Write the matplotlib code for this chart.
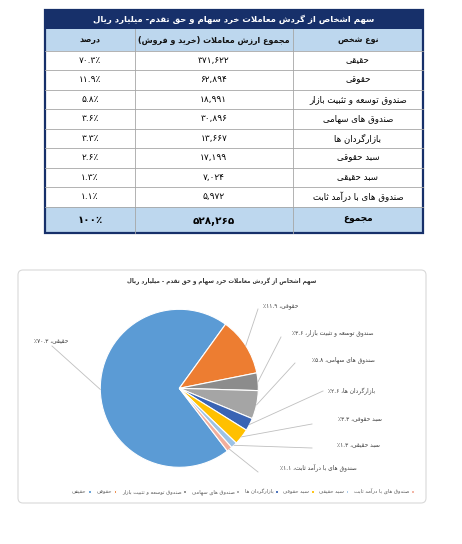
import re
import numpy as np
import matplotlib
matplotlib.use("Agg")
import matplotlib.pyplot as plt
from matplotlib.patches import Rectangle, FancyBboxPatch

# ---- data ----
table_title = "سهم اشخاص از گردش معاملات خرد سهام و حق تقدم- میلیارد ریال"
chart_title = "سهم اشخاص از گردش معاملات خرد سهام و حق تقدم - میلیارد ریال"
col_headers = ["نوع شخص", "مجموع ارزش معاملات (خرید و فروش)", "درصد"]
person_types = ["حقیقی", "حقوقی", "صندوق توسعه و تثبیت بازار", "صندوق های سهامی",
                "بازارگردان ها", "سبد حقوقی", "سبد حقیقی", "صندوق های با درآمد ثابت"]
trade_values = [371622, 62894, 18991, 30896, 13667, 17199, 7024, 5972]
table_percents = [70.3, 11.9, 5.8, 3.6, 3.3, 2.6, 1.3, 1.1]
total_label = "مجموع"
total_value = 528265
total_percent = 100
pie_percents = [70.3, 11.9, 3.6, 5.8, 2.6, 3.3, 1.3, 1.1]
pie_colors = ["#5B9BD5", "#ED7D31", "#8C8C8C", "#A5A5A5", "#3A64B4", "#FFC000", "#9DC3E6", "#F2AE9C"]

# ---- minimal persian shaping (matplotlib has no bidi / joining) ----
DUAL = {'ب': 0xFE8F, 'پ': 0xFB56, 'ت': 0xFE95, 'ث': 0xFE99, 'ج': 0xFE9D, 'چ': 0xFB7A,
        'ح': 0xFEA1, 'خ': 0xFEA5, 'س': 0xFEB1, 'ش': 0xFEB5, 'ص': 0xFEB9, 'ض': 0xFEBD,
        'ط': 0xFEC1, 'ظ': 0xFEC5, 'ع': 0xFEC9, 'غ': 0xFECD, 'ف': 0xFED1, 'ق': 0xFED5,
        'ک': 0xFB8E, 'گ': 0xFB92, 'ل': 0xFEDD, 'م': 0xFEE1, 'ن': 0xFEE5, 'ه': 0xFEE9,
        'ی': 0xFBFC}
RIGHT = {'ا': 0xFE8D, 'آ': 0xFE81, 'د': 0xFEA9, 'ذ': 0xFEAB, 'ر': 0xFEAD, 'ز': 0xFEAF,
         'ژ': 0xFB8A, 'و': 0xFEED}
LAM_ALEF = {'ا': (0xFEFB, 0xFEFC), 'آ': (0xFEF5, 0xFEF6)}
NUM = "0123456789۰۱۲۳۴۵۶۷۸۹٪%.,"


def shape(text):
    out = []
    i = 0
    n = len(text)
    while i < n:
        c = text[i]
        prev = text[i - 1] if i > 0 else ""
        nxt = text[i + 1] if i + 1 < n else ""
        join_prev = prev in DUAL
        if c == 'ل' and nxt in LAM_ALEF:
            iso, fin = LAM_ALEF[nxt]
            out.append(chr(fin if join_prev else iso))
            i += 2
            continue
        if c in RIGHT:
            out.append(chr(RIGHT[c] + (1 if join_prev else 0)))
        elif c in DUAL:
            join_next = nxt in DUAL or nxt in RIGHT
            b = DUAL[c]
            if join_prev and join_next:
                out.append(chr(b + 3))
            elif join_prev:
                out.append(chr(b + 1))
            elif join_next:
                out.append(chr(b + 2))
            else:
                out.append(chr(b))
        else:
            out.append(c)
        i += 1
    return "".join(out)


def rtl(text):
    s = shape(text)
    pat = "[" + re.escape(NUM) + "]+|[^" + re.escape(NUM) + "]+"
    runs = re.findall(pat, s)
    out = []
    for r in reversed(runs):
        if r[0] in NUM:
            out.append(r)
        else:
            out.append(r[::-1].translate(str.maketrans("()", ")(")))
    return "".join(out)


def fa(s):
    return str(s).translate(str.maketrans("0123456789", "۰۱۲۳۴۵۶۷۸۹"))


W, H = 462, 544


def Y(y):
    return H - y


plt.rcParams['font.family'] = ['DejaVu Sans']
fig = plt.figure(figsize=(W / 100, H / 100), dpi=100)
ax = fig.add_axes([0, 0, 1, 1])

# ---- table ----
navy = "#17306A"
light = "#BDD7EE"
cols = [45, 135, 292.7, 423]
title_top, head_top, rows_top, row_h = 10, 29.3, 50.7, 19.5
total_top = rows_top + row_h * len(person_types)
bottom = 232.5

ax.add_patch(Rectangle((cols[0], Y(head_top)), cols[3] - cols[0], head_top - title_top,
                       facecolor=navy, edgecolor="none"))
ax.add_patch(Rectangle((cols[0], Y(rows_top)), cols[3] - cols[0], rows_top - head_top,
                       facecolor=light, edgecolor="none"))
ax.add_patch(Rectangle((cols[0], Y(bottom)), cols[3] - cols[0], bottom - total_top,
                       facecolor=light, edgecolor="none"))
ax.text((cols[0] + cols[3]) / 2, Y((title_top + head_top) / 2), rtl(table_title),
        color="white", fontsize=6.1, fontweight="bold", ha="center", va="center")

# header (right-to-left column order)
for k, h in enumerate(col_headers):
    hx = (cols[3 - k] + cols[2 - k]) / 2
    ax.text(hx, Y((head_top + rows_top) / 2), rtl(h), fontsize=5.8, fontweight="bold",
            ha="center", va="center", color="#111111")

for i, (name, val, pct) in enumerate(zip(person_types, trade_values, table_percents)):
    yc = Y(rows_top + row_h * (i + 0.5))
    ax.text((cols[2] + cols[3]) / 2, yc, rtl(name), fontsize=6.2, ha="center", va="center")
    ax.text((cols[1] + cols[2]) / 2, yc, rtl(fa(f"{val:,}")), fontsize=6.5,
            ha="center", va="center")
    ax.text((cols[0] + cols[1]) / 2, yc, rtl(fa(pct) + "٪"), fontsize=6.5,
            ha="center", va="center")

yc = Y((total_top + bottom) / 2)
ax.text((cols[2] + cols[3]) / 2, yc, rtl(total_label), fontsize=6.5, fontweight="bold",
        ha="center", va="center")
ax.text((cols[1] + cols[2]) / 2, yc - 1, rtl(fa(f"{total_value:,}")), fontsize=7.5,
        fontweight="bold", ha="center", va="center")
ax.text((cols[0] + cols[1]) / 2, yc, rtl(fa(total_percent) + "٪"), fontsize=7.5,
        fontweight="bold", ha="center", va="center")

# grid lines
for k in range(len(person_types) + 1):
    yy = Y(rows_top + row_h * k)
    ax.plot([cols[0], cols[3]], [yy, yy], color="#A6A6A6", lw=0.6)
for xx in cols[1:3]:
    ax.plot([xx, xx], [Y(head_top), Y(bottom)], color="#A6A6A6", lw=0.6)
ax.add_patch(Rectangle((cols[0], Y(bottom)), cols[3] - cols[0], bottom - title_top,
                       facecolor="none", edgecolor=navy, lw=1.6))

# ---- pie chart card ----
ax.add_patch(FancyBboxPatch((18, Y(503)), 408, 233, boxstyle="round,pad=0,rounding_size=5",
                            facecolor="white", edgecolor="#D9D9D9", lw=0.8))
ax.text(222, Y(281), rtl(chart_title), fontsize=4.1, fontweight="bold",
        ha="center", va="center", color="#333333")

cx, cy, r = 179.3, Y(388.3), 79
wedges, _ = ax.pie(pie_percents, colors=pie_colors, startangle=-52.5, counterclock=False,
                   center=(cx, cy), radius=r,
                   wedgeprops=dict(edgecolor="white", linewidth=0.8))

# label anchor (x, y, ha) and leader end point
label_pos = [(68, 341, "right", 52, 346),
             (263, 306, "left", 258, 309),
             (292, 333, "left", 281, 337),
             (312, 360, "left", 295, 363),
             (328, 391, "left", 323, 391),
             (338, 420, "left", 312, 424),
             (337, 445, "left", 312, 448),
             (280, 467, "left", 258, 472)]
for w, name, p, (lx, ly, ha, ex, ey) in zip(wedges, person_types, pie_percents, label_pos):
    mid = np.deg2rad((w.theta1 + w.theta2) / 2)
    sx, sy = cx + r * np.cos(mid), cy + r * np.sin(mid)
    ax.plot([sx, ex], [sy, Y(ey)], color="#BFBFBF", lw=0.6)
    ax.text(lx, Y(ly), rtl(f"{name}، ٪{fa(p)}"), fontsize=4.2, ha=ha, va="center",
            color="#404040")

ax.legend(wedges, [rtl(n) for n in person_types], ncol=8, markerfirst=False,
          loc="center", bbox_to_anchor=(243 / W, 1 - 491.7 / H), bbox_transform=fig.transFigure,
          fontsize=3.8, frameon=False, handlelength=0.5, handleheight=0.5,
          handletextpad=0.3, columnspacing=1.1, labelcolor="#595959")

ax.set_xlim(0, W)
ax.set_ylim(0, H)
ax.set_aspect("auto")
ax.axis("off")
fig.savefig("out.png", dpi=100)
